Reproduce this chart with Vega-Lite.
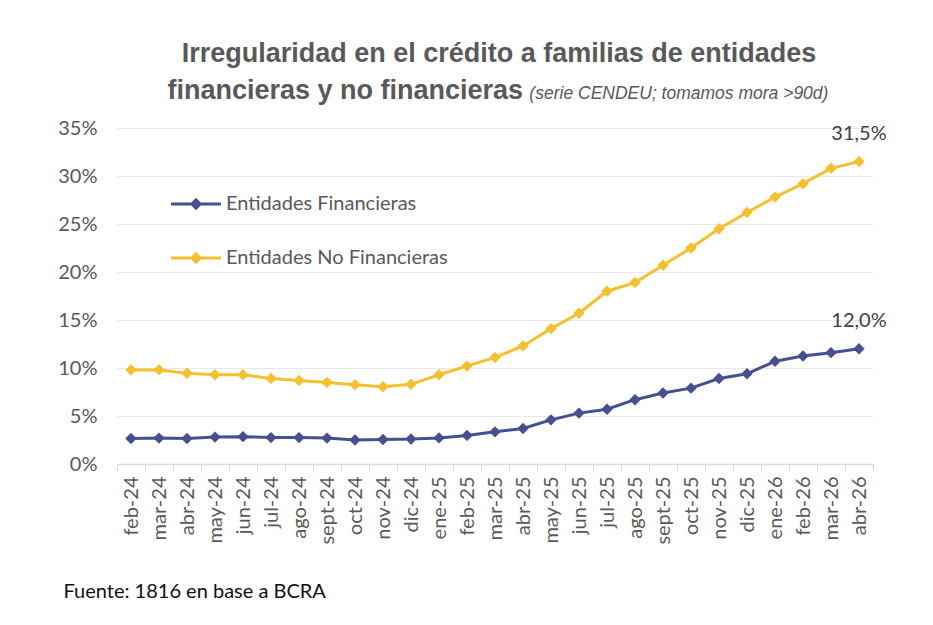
{
  "$schema": "https://vega.github.io/schema/vega-lite/v6.json",
  "width": 756,
  "height": 336,
  "autosize": {"type": "none"},
  "padding": {"left": 117, "top": 128, "right": 60, "bottom": 161},
  "background": "white",
  "title": {
    "text": ["Irregularidad en el crédito a familias de entidades", "financieras y no financieras\u00a0\u00a0\u00a0\u00a0\u00a0\u00a0\u00a0\u00a0\u00a0\u00a0\u00a0\u00a0\u00a0\u00a0\u00a0\u00a0\u00a0\u00a0\u00a0\u00a0\u00a0\u00a0\u00a0\u00a0\u00a0\u00a0\u00a0\u00a0\u00a0\u00a0\u00a0\u00a0\u00a0\u00a0\u00a0\u00a0\u00a0\u00a0\u00a0\u00a0\u00a0\u2060"],
    "subtitle": "\u2060\u00a0\u00a0\u00a0\u00a0\u00a0\u00a0\u00a0\u00a0\u00a0\u00a0\u00a0\u00a0\u00a0\u00a0\u00a0\u00a0\u00a0\u00a0\u00a0\u00a0\u00a0\u00a0\u00a0\u00a0\u00a0\u00a0\u00a0\u00a0\u00a0\u00a0\u00a0\u00a0\u00a0\u00a0\u00a0\u00a0\u00a0\u00a0\u00a0\u00a0\u00a0\u00a0\u00a0\u00a0\u00a0\u00a0\u00a0\u00a0\u00a0\u00a0\u00a0\u00a0\u00a0\u00a0\u00a0\u00a0\u00a0\u00a0\u00a0\u00a0\u00a0\u00a0\u00a0\u00a0\u00a0\u00a0\u00a0\u00a0\u00a0\u00a0\u00a0\u00a0\u00a0\u00a0(serie CENDEU; tomamos mora >90d)",
    "anchor": "middle",
    "frame": "group",
    "dx": 4,
    "offset": 13,
    "font": "Liberation Sans",
    "fontSize": 27,
    "fontWeight": "bold",
    "color": "#595959",
    "lineHeight": 37,
    "subtitleFont": "Liberation Sans",
    "subtitleFontSize": 17.5,
    "subtitleFontStyle": "italic",
    "subtitleColor": "#595959",
    "subtitlePadding": -20
  },
  "config": {
    "view": {"stroke": null},
    "font": "Lato",
    "locale": {
      "number": {"decimal": ",", "thousands": ".", "grouping": [3], "currency": ["$", ""]}
    }
  },
  "data": {
    "values": [
      {"mes": "feb-24", "serie": "Entidades Financieras", "valor": 0.0265},
      {"mes": "mar-24", "serie": "Entidades Financieras", "valor": 0.027},
      {"mes": "abr-24", "serie": "Entidades Financieras", "valor": 0.0265},
      {"mes": "may-24", "serie": "Entidades Financieras", "valor": 0.028},
      {"mes": "jun-24", "serie": "Entidades Financieras", "valor": 0.0285},
      {"mes": "jul-24", "serie": "Entidades Financieras", "valor": 0.0275},
      {"mes": "ago-24", "serie": "Entidades Financieras", "valor": 0.0275},
      {"mes": "sept-24", "serie": "Entidades Financieras", "valor": 0.027},
      {"mes": "oct-24", "serie": "Entidades Financieras", "valor": 0.025},
      {"mes": "nov-24", "serie": "Entidades Financieras", "valor": 0.0255},
      {"mes": "dic-24", "serie": "Entidades Financieras", "valor": 0.026},
      {"mes": "ene-25", "serie": "Entidades Financieras", "valor": 0.0272},
      {"mes": "feb-25", "serie": "Entidades Financieras", "valor": 0.0298},
      {"mes": "mar-25", "serie": "Entidades Financieras", "valor": 0.0335},
      {"mes": "abr-25", "serie": "Entidades Financieras", "valor": 0.037},
      {"mes": "may-25", "serie": "Entidades Financieras", "valor": 0.046},
      {"mes": "jun-25", "serie": "Entidades Financieras", "valor": 0.053},
      {"mes": "jul-25", "serie": "Entidades Financieras", "valor": 0.057},
      {"mes": "ago-25", "serie": "Entidades Financieras", "valor": 0.067},
      {"mes": "sept-25", "serie": "Entidades Financieras", "valor": 0.074},
      {"mes": "oct-25", "serie": "Entidades Financieras", "valor": 0.079},
      {"mes": "nov-25", "serie": "Entidades Financieras", "valor": 0.089},
      {"mes": "dic-25", "serie": "Entidades Financieras", "valor": 0.094},
      {"mes": "ene-26", "serie": "Entidades Financieras", "valor": 0.107},
      {"mes": "feb-26", "serie": "Entidades Financieras", "valor": 0.1125},
      {"mes": "mar-26", "serie": "Entidades Financieras", "valor": 0.116},
      {"mes": "abr-26", "serie": "Entidades Financieras", "valor": 0.12},
      {"mes": "feb-24", "serie": "Entidades No Financieras", "valor": 0.098},
      {"mes": "mar-24", "serie": "Entidades No Financieras", "valor": 0.098},
      {"mes": "abr-24", "serie": "Entidades No Financieras", "valor": 0.0945},
      {"mes": "may-24", "serie": "Entidades No Financieras", "valor": 0.093},
      {"mes": "jun-24", "serie": "Entidades No Financieras", "valor": 0.093},
      {"mes": "jul-24", "serie": "Entidades No Financieras", "valor": 0.089},
      {"mes": "ago-24", "serie": "Entidades No Financieras", "valor": 0.087},
      {"mes": "sept-24", "serie": "Entidades No Financieras", "valor": 0.085},
      {"mes": "oct-24", "serie": "Entidades No Financieras", "valor": 0.0825},
      {"mes": "nov-24", "serie": "Entidades No Financieras", "valor": 0.0805},
      {"mes": "dic-24", "serie": "Entidades No Financieras", "valor": 0.083},
      {"mes": "ene-25", "serie": "Entidades No Financieras", "valor": 0.093},
      {"mes": "feb-25", "serie": "Entidades No Financieras", "valor": 0.102},
      {"mes": "mar-25", "serie": "Entidades No Financieras", "valor": 0.111},
      {"mes": "abr-25", "serie": "Entidades No Financieras", "valor": 0.123},
      {"mes": "may-25", "serie": "Entidades No Financieras", "valor": 0.141},
      {"mes": "jun-25", "serie": "Entidades No Financieras", "valor": 0.157},
      {"mes": "jul-25", "serie": "Entidades No Financieras", "valor": 0.18},
      {"mes": "ago-25", "serie": "Entidades No Financieras", "valor": 0.189},
      {"mes": "sept-25", "serie": "Entidades No Financieras", "valor": 0.207},
      {"mes": "oct-25", "serie": "Entidades No Financieras", "valor": 0.225},
      {"mes": "nov-25", "serie": "Entidades No Financieras", "valor": 0.245},
      {"mes": "dic-25", "serie": "Entidades No Financieras", "valor": 0.262},
      {"mes": "ene-26", "serie": "Entidades No Financieras", "valor": 0.278},
      {"mes": "feb-26", "serie": "Entidades No Financieras", "valor": 0.292},
      {"mes": "mar-26", "serie": "Entidades No Financieras", "valor": 0.308},
      {"mes": "abr-26", "serie": "Entidades No Financieras", "valor": 0.315}
    ]
  },
  "encoding": {
    "x": {
      "field": "mes",
      "type": "ordinal",
      "sort": null,
      "scale": {"type": "band", "paddingInner": 0, "paddingOuter": 0},
      "axis": {
        "title": "Fuente: 1816 en base a BCRA",
        "titleFont": "Lato",
        "titleFontSize": 20,
        "titleFontWeight": "normal",
        "titleColor": "#111111",
        "titleAnchor": "start",
        "titleAlign": "left",
        "titleBaseline": "alphabetic",
        "titleX": -54,
        "titleY": 133,
        "labelAngle": -90,
        "labelFontSize": 20,
        "labelColor": "#595959",
        "labelPadding": 5,
        "tickBand": "extent",
        "tickSize": 7,
        "tickColor": "#d9d9d9",
        "domainColor": "#d9d9d9",
        "domainWidth": 1.5,
        "grid": false
      }
    },
    "y": {
      "field": "valor",
      "type": "quantitative",
      "scale": {"domain": [0, 0.35], "nice": false},
      "axis": {
        "title": null,
        "format": ".0%",
        "values": [0, 0.05, 0.1, 0.15, 0.2, 0.25, 0.3, 0.35],
        "labelFontSize": 20,
        "labelColor": "#595959",
        "labelPadding": 20,
        "ticks": false,
        "domain": false,
        "gridColor": "#e8e8e8",
        "gridWidth": 1
      }
    }
  },
  "layer": [
    {
      "mark": {"type": "line", "strokeWidth": 3},
      "encoding": {
        "color": {
          "field": "serie",
          "type": "nominal",
          "scale": {
            "domain": ["Entidades Financieras", "Entidades No Financieras"],
            "range": ["#44508f", "#f5c02f"]
          },
          "legend": {
            "title": null,
            "orient": "none",
            "legendX": 54,
            "legendY": 51,
            "padding": 0,
            "direction": "vertical",
            "symbolType": "M-1,-0.06H1V0.06H-1Z M0,-0.25L0.25,0L0,0.25L-0.25,0Z",
            "symbolSize": 2500,
            "symbolStrokeWidth": 0,
            "symbolOpacity": 1,
            "labelFont": "Lato",
            "labelFontSize": 20,
            "labelColor": "#595959",
            "labelOffset": 5,
            "labelLimit": 500,
            "rowPadding": 19
          }
        }
      }
    },
    {
      "mark": {"type": "point", "shape": "diamond", "filled": true, "size": 130, "opacity": 1},
      "encoding": {
        "color": {
          "field": "serie",
          "type": "nominal",
          "scale": {
            "domain": ["Entidades Financieras", "Entidades No Financieras"],
            "range": ["#44508f", "#f5c02f"]
          },
          "legend": {
            "title": null,
            "orient": "none",
            "legendX": 54,
            "legendY": 51,
            "padding": 0,
            "direction": "vertical",
            "symbolType": "M-1,-0.06H1V0.06H-1Z M0,-0.25L0.25,0L0,0.25L-0.25,0Z",
            "symbolSize": 2500,
            "symbolStrokeWidth": 0,
            "symbolOpacity": 1,
            "labelFont": "Lato",
            "labelFontSize": 20,
            "labelColor": "#595959",
            "labelOffset": 5,
            "labelLimit": 500,
            "rowPadding": 19
          }
        }
      }
    },
    {
      "transform": [{"filter": "datum.mes === 'abr-26'"}],
      "mark": {"type": "text", "baseline": "alphabetic", "dy": -22, "fontSize": 20, "font": "Lato"},
      "encoding": {
        "text": {"field": "valor", "format": ".1%"},
        "color": {"value": "#404040"}
      }
    }
  ]
}
